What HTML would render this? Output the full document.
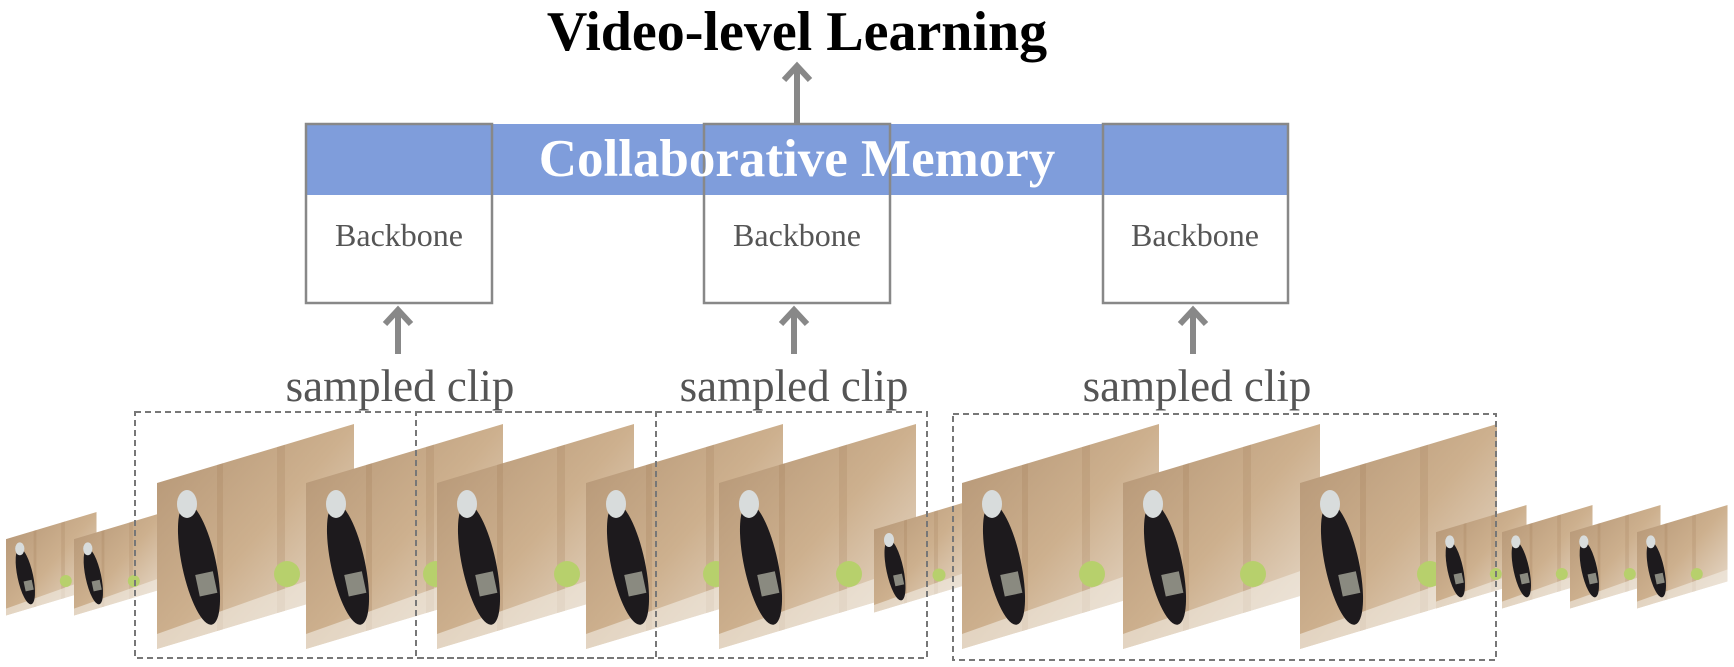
<!DOCTYPE html>
<html><head><meta charset="utf-8"><style>
html,body{margin:0;padding:0;background:#fff;}
svg{display:block}
</style></head><body>
<svg width="1734" height="667" viewBox="0 0 1734 667" xmlns="http://www.w3.org/2000/svg">
<defs>
<linearGradient id="wood" x1="0" y1="0" x2="1" y2="1">
<stop offset="0" stop-color="#b39474"/>
<stop offset="0.5" stop-color="#cdb08e"/>
<stop offset="1" stop-color="#ece2d6"/>
</linearGradient>
<clipPath id="cp"><polygon points="0,59 197,0 197,166 0,225"/></clipPath>
<g id="frame">
<g clip-path="url(#cp)">
<rect x="0" y="0" width="197" height="225" fill="url(#wood)"/>
<rect x="60" y="0" width="6" height="225" fill="#a98560" opacity="0.3"/>
<rect x="120" y="0" width="8" height="225" fill="#a98560" opacity="0.25"/>
<polygon points="0,210 197,140 197,225 0,225" fill="#f2ece4" opacity="0.6"/>
<ellipse cx="42" cy="140" rx="17" ry="62" fill="#1d1a1d" transform="rotate(-12 42 140)"/>
<ellipse cx="30" cy="80" rx="10" ry="14" fill="#d8dcdc"/>
<rect x="36" y="150" width="18" height="22" fill="#8a8a80" transform="rotate(-12 42 140)"/>
<circle cx="130" cy="150" r="13" fill="#b7d06c"/>
</g>
</g>
</defs>

<text x="797" y="50" font-family="Liberation Serif, serif" font-weight="bold" font-size="56" text-anchor="middle" fill="#000">Video-level Learning</text>

<line x1="797" y1="124" x2="797" y2="66" stroke="#888" stroke-width="6"/>
<polyline points="784,80 797,66 810,80" fill="none" stroke="#888" stroke-width="6"/>

<rect x="306" y="124" width="982" height="71" fill="#7f9ddb"/>
<rect x="306" y="124" width="186" height="179" fill="none" stroke="#888" stroke-width="2.5"/>
<rect x="704" y="124" width="186" height="179" fill="none" stroke="#888" stroke-width="2.5"/>
<rect x="1103" y="124" width="185" height="179" fill="none" stroke="#888" stroke-width="2.5"/>
<text x="797" y="176" font-family="Liberation Serif, serif" font-weight="bold" font-size="53" text-anchor="middle" fill="#fff">Collaborative Memory</text>

<g font-family="Liberation Serif, serif" font-size="32" fill="#555" text-anchor="middle">
<text x="399" y="246">Backbone</text>
<text x="797" y="246">Backbone</text>
<text x="1195" y="246">Backbone</text>
</g>

<g stroke="#888" stroke-width="6" fill="none">
<line x1="398" y1="354" x2="398" y2="310"/><polyline points="385,324 398,310 411,324"/>
<line x1="794" y1="354" x2="794" y2="310"/><polyline points="781,324 794,310 807,324"/>
<line x1="1193" y1="354" x2="1193" y2="310"/><polyline points="1180,324 1193,310 1206,324"/>
</g>

<g font-family="Liberation Serif, serif" font-size="45" fill="#555" text-anchor="middle">
<text x="400" y="401">sampled clip</text>
<text x="794" y="401">sampled clip</text>
<text x="1197" y="401">sampled clip</text>
</g>

<use href="#frame" transform="translate(6,512) scale(0.46)"/>
<use href="#frame" transform="translate(74,512) scale(0.46)"/>
<use href="#frame" transform="translate(157,424)"/>
<use href="#frame" transform="translate(306,424)"/>
<use href="#frame" transform="translate(437,424)"/>
<use href="#frame" transform="translate(586,424)"/>
<use href="#frame" transform="translate(719,424)"/>
<use href="#frame" transform="translate(874,500) scale(0.5)"/>
<use href="#frame" transform="translate(962,424)"/>
<use href="#frame" transform="translate(1123,424)"/>
<use href="#frame" transform="translate(1300,424)"/>
<use href="#frame" transform="translate(1436,505) scale(0.46)"/>
<use href="#frame" transform="translate(1502,505) scale(0.46)"/>
<use href="#frame" transform="translate(1570,505) scale(0.46)"/>
<use href="#frame" transform="translate(1637,505) scale(0.46)"/>

<g fill="none" stroke="#777" stroke-width="2" stroke-dasharray="6,4">
<rect x="135" y="412" width="521" height="246"/>
<rect x="416" y="412" width="511" height="246"/>
<rect x="953" y="414" width="543" height="246"/>
</g>
</svg>
</body></html>
